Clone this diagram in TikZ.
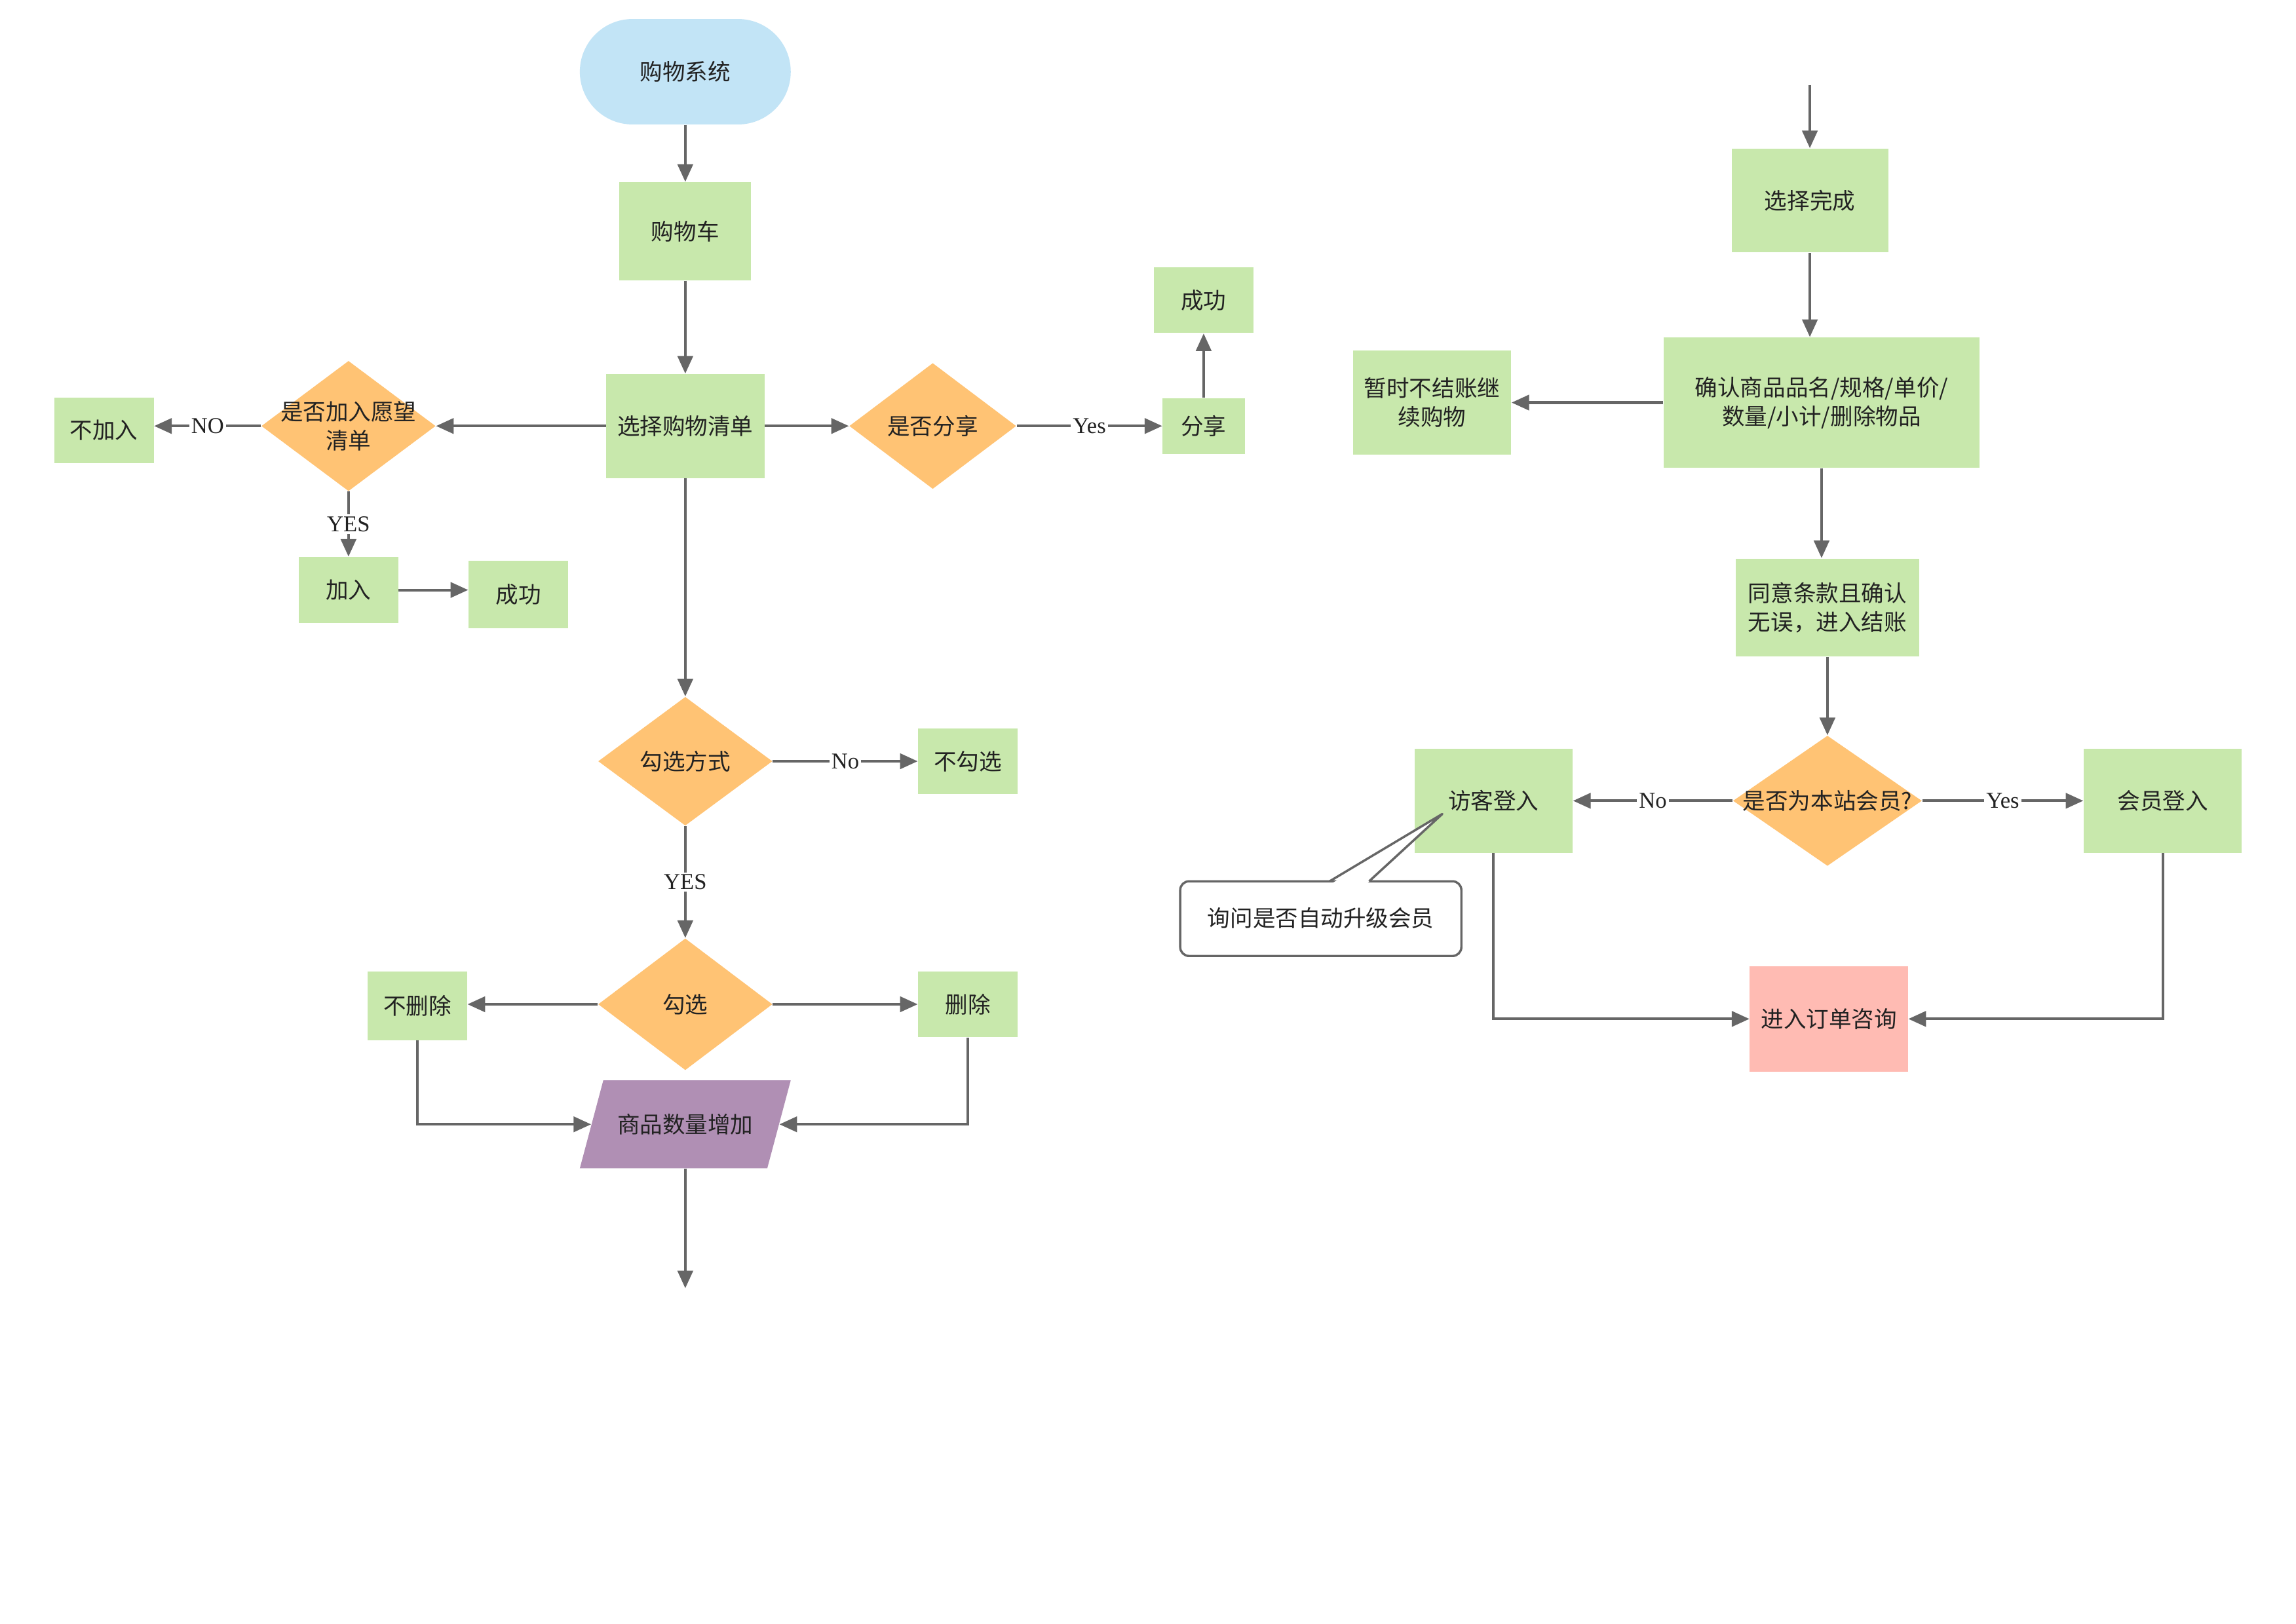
\documentclass[tikz,border=0pt]{standalone}
\usepackage{fontspec}
\setmainfont{Liberation Serif}
\newfontfamily\cjk{Noto Sans CJK SC}
\usetikzlibrary{shapes.geometric,arrows.meta,calc}
\definecolor{gbox}{HTML}{C8E8AC}
\definecolor{obox}{HTML}{FFC374}
\definecolor{bbox}{HTML}{C2E4F6}
\definecolor{pbox}{HTML}{B08FB4}
\definecolor{rbox}{HTML}{FFBBB3}
\definecolor{lcol}{HTML}{666666}
\definecolor{tcol}{HTML}{222222}
\tikzset{
  base/.style={inner sep=1pt, align=center, text=tcol, font=\cjk\fontsize{11}{14}\selectfont},
  gnode/.style={base, rectangle, fill=gbox},
  dnode/.style={base, diamond, fill=obox, inner sep=0pt, shape aspect=1},
  conn/.style={draw=lcol, line width=1.3pt, -{Triangle[length=0.3cm,width=0.26cm]}},
  elab/.style={fill=white, inner sep=1pt, text=tcol, font=\fontsize{11}{13}\selectfont},
}
\begin{document}
\begin{tikzpicture}[x=0.025cm,y=-0.025cm]
\fill[white] (0,0) rectangle (1568,1109);
\useasboundingbox (0,0) rectangle (1568,1109);

% ---------- left flow ----------
\node[base, fill=bbox, rounded corners=0.9cm, minimum width=3.6cm, minimum height=1.8cm] (start) at (468,49) {购物系统};
\node[gnode, minimum width=2.25cm, minimum height=1.675cm] (cart) at (468,158) {购物车};
\node[gnode, minimum width=2.7cm, minimum height=1.775cm] (list) at (468,291) {选择购物清单};

\node[dnode, minimum width=2.975cm, minimum height=2.225cm,
      label={[base, align=center]center:是否加入愿望\\清单}] (wish) at (238,291) {};
\node[gnode, minimum width=1.7cm, minimum height=1.125cm] (noadd) at (71,294) {不加入};
\node[gnode, minimum width=1.7cm, minimum height=1.125cm] (add) at (238,403) {加入};
\node[gnode, minimum width=1.7cm, minimum height=1.15cm] (ok1) at (354,406) {成功};

\node[dnode, minimum width=2.85cm, minimum height=2.15cm,
      label={[base]center:是否分享}] (share) at (637,291) {};
\node[gnode, minimum width=1.4cm, minimum height=0.95cm] (shared) at (822,291) {分享};
\node[gnode, minimum width=1.7cm, minimum height=1.125cm] (ok2) at (822,205) {成功};

\node[dnode, minimum width=2.975cm, minimum height=2.2cm,
      label={[base]center:勾选方式}] (mode) at (468,520) {};
\node[gnode, minimum width=1.7cm, minimum height=1.125cm] (nocheck) at (661,520) {不勾选};

\node[dnode, minimum width=2.975cm, minimum height=2.25cm,
      label={[base]center:勾选}] (check) at (468,686) {};
\node[gnode, minimum width=1.7cm, minimum height=1.175cm] (nodel) at (285,687) {不删除};
\node[gnode, minimum width=1.7cm, minimum height=1.125cm] (del) at (661,686) {删除};

\fill[pbox] (396,798) -- (524,798) -- (540,738) -- (412,738) -- cycle;
\node[base, minimum width=3.2cm, minimum height=1.5cm] (qty) at (468,768) {商品数量增加};
\coordinate (qtyend) at (468,880);

\draw[conn] (start) -- (cart);
\draw[conn] (cart) -- (list);
\draw[conn] (list) -- (wish.east);
\draw[conn] (wish.west) -- node[elab] {NO} (wish.west -| noadd.east);
\draw[conn] (wish.south) -- node[elab] {YES} (add);
\draw[conn] (add) -- (add -| ok1.west);
\draw[conn] (list) -- (share.west);
\draw[conn] (share.east) -- node[elab] {Yes} (shared);
\draw[conn] (shared) -- (ok2);
\draw[conn] (list) -- (mode.north);
\draw[conn] (mode.east) -- node[elab] {No} (nocheck);
\draw[conn] (mode.south) -- node[elab] {YES} (check.north);
\draw[conn] (check.west) -- (check.west -| nodel.east);
\draw[conn] (check.east) -- (del);
\draw[conn] (nodel.south) |- (qty.west);
\draw[conn] (del.south) |- (qty.east);
\draw[conn] (qty.south) -- (qtyend);

% ---------- right flow ----------
\coordinate (rtop) at (1236,58);
\node[gnode, minimum width=2.675cm, minimum height=1.775cm] (done) at (1236,137) {选择完成};
\node[gnode, minimum width=5.4cm, minimum height=2.225cm] (confirm) at (1244,275) {确认商品品名/规格/单价/\\数量/小计/删除物品};
\node[gnode, minimum width=2.7cm, minimum height=1.775cm] (later) at (978,275) {暂时不结账继\\续购物};
\node[gnode, minimum width=3.125cm, minimum height=1.675cm] (agree) at (1248,415) {同意条款且确认\\无误，进入结账};
\node[dnode, minimum width=3.225cm, minimum height=2.225cm,
      label={[base]center:是否为本站会员?}] (member) at (1248,547) {};
\node[gnode, minimum width=2.7cm, minimum height=1.775cm] (guest) at (1020,547) {访客登入};
\node[gnode, minimum width=2.7cm, minimum height=1.775cm] (mlogin) at (1477,547) {会员登入};
\node[base, rectangle, fill=rbox, minimum width=2.7cm, minimum height=1.8cm] (order) at (1249,696) {进入订单咨询};

\draw[conn] (rtop) -- (done.north);
\draw[conn] (done.south) -- (done.south |- confirm.north);
\draw[conn] (confirm) -- (later);
\draw[conn] (confirm.south) -- (confirm.south |- agree.north);
\draw[conn] (agree.south) -- (member.north);
\draw[conn] (member.west) -- node[elab] {No} (guest);
\draw[conn] (member.east) -- node[elab] {Yes} (mlogin);
\draw[conn] (guest.south) |- (order.west);
\draw[conn] (mlogin.south) |- (order.east);

% ---------- callout ----------
\draw[draw=lcol, line width=1.1pt, fill=white, rounded corners=0.15cm] (806,602) rectangle (998,653);
\fill[white] (909.5,603.5) -- (985,556) -- (933.5,603.5) -- cycle;
\draw[draw=lcol, line width=1.1pt, line join=round] (908,602) -- (985,556) -- (935,602);
\node[base] (callout) at (902,627) {询问是否自动升级会员};
\end{tikzpicture}
\end{document}
